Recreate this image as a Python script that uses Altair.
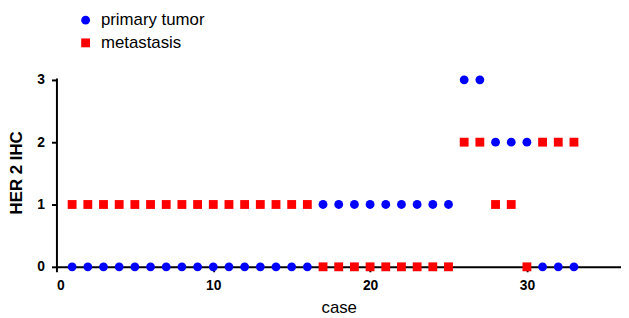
import altair as alt
import pandas as pd

series_names = ["primary tumor", "metastasis"]
series_colors = ["#0000ff", "#ff0000"]
series_shapes = ["circle", "square"]

cases = [1, 2, 3, 4, 5, 6, 7, 8, 9, 10, 11, 12, 13, 14, 15, 16, 17,
         18, 19, 20, 21, 22, 23, 24, 25, 26, 27, 28, 29, 30, 31, 32, 33]
primary_tumor = [0, 0, 0, 0, 0, 0, 0, 0, 0, 0, 0, 0, 0, 0, 0, 0,
                 1, 1, 1, 1, 1, 1, 1, 1, 1,
                 3, 3, 2, 2, 2, 0, 0, 0]
metastasis = [1, 1, 1, 1, 1, 1, 1, 1, 1, 1, 1, 1, 1, 1, 1, 1,
              0, 0, 0, 0, 0, 0, 0, 0, 0,
              2, 2, 1, 1, 0, 2, 2, 2]

x_ticks = [0, 10, 20, 30]
y_ticks = [0, 1, 2, 3]

rows = []
for c, p, m in zip(cases, primary_tumor, metastasis):
    rows.append({"case": c, "value": p, "series": series_names[0]})
    rows.append({"case": c, "value": m, "series": series_names[1]})
df = pd.DataFrame(rows)

FONT = "Liberation Sans"

chart = alt.Chart(df).mark_point(filled=True, opacity=1, size=80).encode(
    x=alt.X("case:Q",
            scale=alt.Scale(domain=[0, 36], nice=False, zero=False),
            axis=alt.Axis(values=x_ticks, title="case", titleFontWeight="normal",
                          titleFontSize=17, titleY=46, titleBaseline="alphabetic",
                          labelPadding=7)),
    y=alt.Y("value:Q",
            scale=alt.Scale(domain=[0, 3.03], nice=False),
            axis=alt.Axis(values=y_ticks, title="HER 2 IHC", titleFontWeight="bold",
                          titleFontSize=17, titleX=-40, titleBaseline="middle",
                          labelPadding=7)),
    color=alt.Color("series:N", scale=alt.Scale(domain=series_names, range=series_colors),
                    title=None),
    shape=alt.Shape("series:N", scale=alt.Scale(domain=series_names, range=series_shapes),
                    title=None),
).properties(
    width=571,
    height=191,
    autosize=alt.AutoSizeParams(type="none"),
    padding={"left": 49, "top": 69, "right": 0, "bottom": 50},
).configure_view(
    stroke=None
).configure_axis(
    domainColor="black",
    domainWidth=2,
    tickColor="black",
    tickWidth=2,
    tickSize=5,
    grid=False,
    labelFont=FONT,
    labelFontSize=14,
    labelFontWeight="bold",
    labelColor="black",
    titleFont=FONT,
    titleColor="black",
).configure_legend(
    orient="none",
    legendX=21,
    legendY=-67,
    direction="vertical",
    padding=0,
    rowPadding=5,
    labelFont=FONT,
    labelFontSize=17,
    labelColor="black",
    labelOffset=7,
    symbolSize=80,
    symbolStrokeWidth=0,
)

chart.save("out.html", embed_options={"renderer": "svg", "actions": False})
